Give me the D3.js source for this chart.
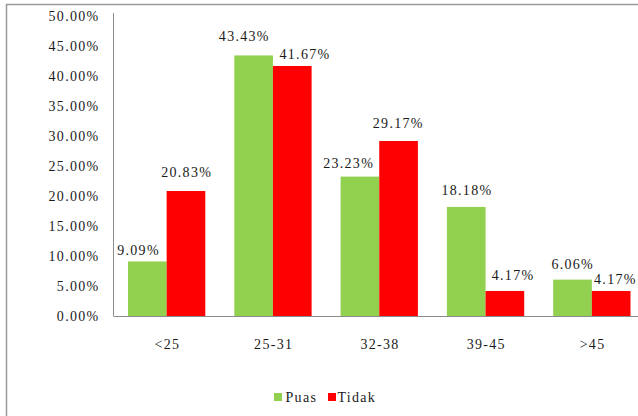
<!DOCTYPE html>
<html>
<head>
<meta charset="utf-8">
<script src="https://cdn.jsdelivr.net/npm/d3@7"></script>
<style>
  html, body { margin: 0; padding: 0; background: #fff; }
  svg { display: block; }
  text { font-family: "Liberation Serif", "Times New Roman", serif; font-size: 14px; fill: #1a1a1a; letter-spacing: 1.3px; }
</style>
</head>
<body>
<svg id="chart" width="638" height="416"></svg>
<script>
// Age groups and the share of respondents in each, by answer
const categories = ["<25", "25-31", "32-38", "39-45", ">45"];
const seriesNames = ["Puas", "Tidak"];
const puasValues = [9.09, 43.43, 23.23, 18.18, 6.06];
const tidakValues = [20.83, 41.67, 29.17, 4.17, 4.17];
const yTicks = [0, 5, 10, 15, 20, 25, 30, 35, 40, 45, 50];

// Hand placement of the value labels (dx, height of label centre above bar top)
const labelNudge = {
  Puas:  { dx: [-9.5, -10, -12, 0, -0.5], up: [11, 19, 14, 17, 16] },
  Tidak: { dx: [0, 12, -1, 7.5, 3.5],     up: [19, 12, 18, 16, 12] }
};

const colors = { Puas: "#92D050", Tidak: "#FF0000" };
const values = { Puas: puasValues, Tidak: tidakValues };

const svg = d3.select("#chart");

// chart frame
svg.append("rect")
  .attr("x", 6.5).attr("y", 4.5)
  .attr("width", 700).attr("height", 500)
  .attr("fill", "none").attr("stroke", "#9a9a9a").attr("stroke-width", 1.5);

const x0 = d3.scaleBand().domain(categories).range([113.5, 645]).paddingInner(0).paddingOuter(0);
const innerPad = 14.5;
const x1 = d3.scaleBand().domain(seriesNames)
  .range([innerPad, x0.bandwidth() - innerPad]);
const y = d3.scaleLinear().domain([0, 50]).range([316, 16]);

// y-axis labels
const yAxis = d3.axisLeft(y)
  .tickValues(yTicks)
  .tickSize(0)
  .tickPadding(0)
  .tickFormat(d => d.toFixed(2) + "%");
const gy = svg.append("g").attr("transform", "translate(99.5,0)").call(yAxis);
gy.select(".domain").remove();
gy.selectAll("text")
  .attr("dy", "0.35em")
  .style("font-family", null).style("font-size", null)
  .attr("fill", "#1a1a1a");

// bars
const groups = svg.append("g").selectAll("g")
  .data(categories)
  .join("g")
  .attr("transform", d => `translate(${x0(d)},0)`);

groups.selectAll("rect")
  .data((c, i) => seriesNames.map(s => ({ s, v: values[s][i], i })))
  .join("rect")
  .attr("x", d => x1(d.s))
  .attr("width", x1.bandwidth())
  .attr("y", d => y(d.v))
  .attr("height", d => y(0) - y(d.v))
  .attr("fill", d => colors[d.s]);

// value labels
groups.selectAll("text.val")
  .data((c, i) => seriesNames.map(s => ({ s, v: values[s][i], i })))
  .join("text")
  .attr("class", "val")
  .attr("x", d => x1(d.s) + x1.bandwidth() / 2 + labelNudge[d.s].dx[d.i] + 0.7)
  .attr("y", d => y(d.v) - labelNudge[d.s].up[d.i])
  .attr("dy", "0.35em")
  .attr("text-anchor", "middle")
  .text(d => d.v.toFixed(2) + "%");

// axis lines
svg.append("line")
  .attr("x1", 113.5).attr("x2", 113.5)
  .attr("y1", 13).attr("y2", y(0))
  .attr("stroke", "#8c8c8c").attr("stroke-width", 1);
svg.append("line")
  .attr("x1", 113.5).attr("x2", 645)
  .attr("y1", y(0) + 0.5).attr("y2", y(0) + 0.5)
  .attr("stroke", "#8c8c8c").attr("stroke-width", 1);

// category labels
const xAxis = d3.axisBottom(x0).tickSize(0).tickPadding(0);
const gx = svg.append("g").attr("transform", "translate(0,344)").call(xAxis);
gx.select(".domain").remove();
gx.selectAll("text")
  .attr("y", 0).attr("dy", "0.35em")
  .attr("dx", "0.7")
  .style("font-family", null).style("font-size", null)
  .attr("fill", "#1a1a1a");

// legend
const legendItems = [
  { name: "Puas", sx: 274, tx: 285.5 },
  { name: "Tidak", sx: 328, tx: 337.5 }
];
const lg = svg.append("g");
lg.selectAll("rect")
  .data(legendItems)
  .join("rect")
  .attr("x", d => d.sx).attr("y", 393)
  .attr("width", 8).attr("height", 8)
  .attr("fill", d => colors[d.name]);
lg.selectAll("text")
  .data(legendItems)
  .join("text")
  .attr("x", d => d.tx).attr("y", 397)
  .attr("dy", "0.35em")
  .text(d => d.name);
</script>
</body>
</html>
